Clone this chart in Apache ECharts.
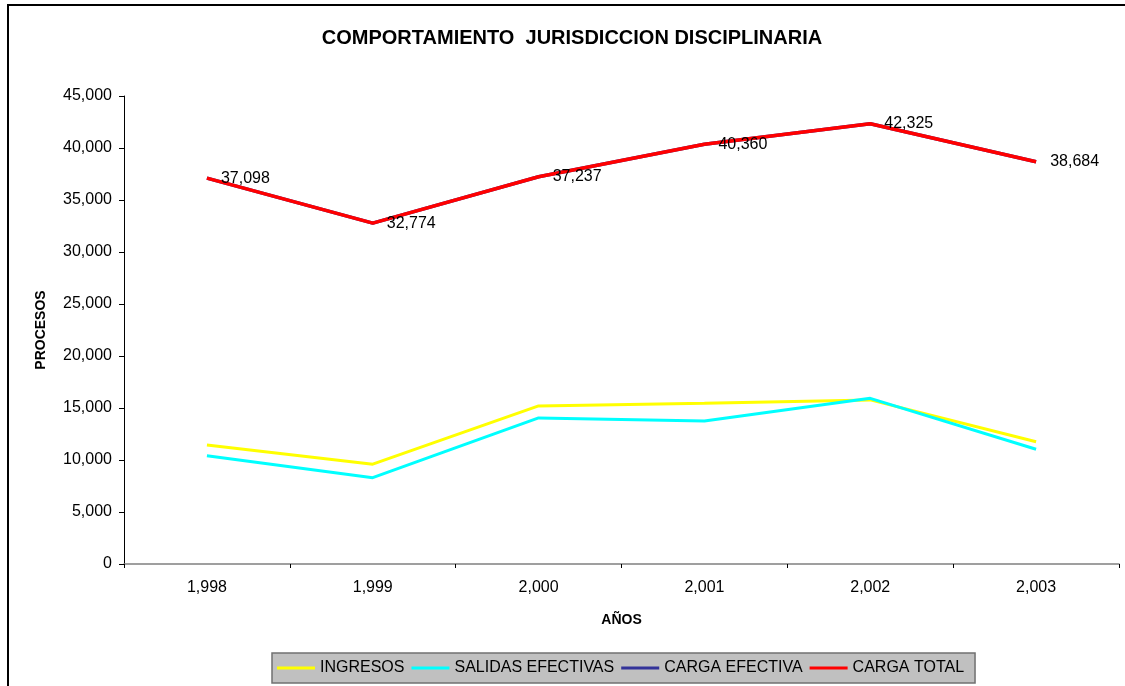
<!DOCTYPE html>
<html>
<head>
<meta charset="utf-8">
<script src="https://cdn.jsdelivr.net/npm/echarts@6/dist/echarts.min.js"></script>
<style>
  html, body { margin: 0; padding: 0; background: #fff; }
  #chart { width: 1125px; height: 686px; }
</style>
</head>
<body>
<div id="chart"></div>
<script>
// datos
const anios = ['1,998', '1,999', '2,000', '2,001', '2,002', '2,003'];
const ingresos = [11450, 9600, 15200, 15450, 15780, 11750];
const salidasEfectivas = [10400, 8300, 14050, 13750, 15930, 11030];
const cargaEfectiva = [37098, 32774, 37237, 40360, 42325, 38684];
const cargaTotal = [37098, 32774, 37237, 40360, 42325, 38684];

const fuente = 'Arial, "Liberation Sans", sans-serif';
const fmt = v => Number(v).toLocaleString('en-US');

const chart = echarts.init(document.getElementById('chart'));

function serie(nombre, datos, color, ancho, etiquetas) {
    return {
        name: nombre, type: 'line', data: datos,
        symbol: 'circle', symbolSize: 0.1, showSymbol: true,
        animation: false,
        lineStyle: { color: color, width: ancho },
        itemStyle: { color: color },
        label: {
            show: etiquetas, position: 'right', distance: 14,
            color: '#000', fontFamily: fuente, fontSize: 16,
            formatter: p => fmt(p.value)
        }
    };
}

chart.setOption({
    backgroundColor: '#fff',
    animation: false,
    title: {
        text: 'COMPORTAMIENTO  JURISDICCION DISCIPLINARIA',
        left: 567, top: 23, textAlign: 'center',
        textStyle: { fontFamily: fuente, fontSize: 20, fontWeight: 'bold', color: '#000' }
    },
    graphic: [{
        type: 'rect', silent: true, z: -1,
        shape: { x: 8, y: 5, width: 1300, height: 900 },
        style: { fill: 'none', stroke: '#000', lineWidth: 2 }
    }],
    grid: { left: 124, right: 6, top: 96, bottom: 122 },
    legend: {
        left: 272, top: 653,
        icon: 'rect', itemWidth: 38, itemHeight: 3, itemGap: 7,
        padding: [7, 11, 7, 5],
        backgroundColor: '#C0C0C0', borderColor: '#707070', borderWidth: 1.5,
        textStyle: { fontFamily: fuente, fontSize: 16, color: '#000' },
        data: ['INGRESOS', 'SALIDAS EFECTIVAS', 'CARGA EFECTIVA', 'CARGA TOTAL']
    },
    xAxis: {
        type: 'category', data: anios, boundaryGap: true,
        name: 'AÑOS', nameLocation: 'middle', nameGap: 49,
        nameTextStyle: { fontFamily: fuente, fontSize: 14, fontWeight: 'bold', color: '#000' },
        axisLine: { lineStyle: { color: '#808080', width: 1.5 } },
        axisTick: { show: true, length: 4, lineStyle: { color: '#000' } },
        axisLabel: { fontFamily: fuente, fontSize: 16, color: '#000', margin: 16 },
        splitLine: { show: false }
    },
    yAxis: {
        type: 'value', min: 0, max: 45000, interval: 5000,
        name: 'PROCESOS', nameLocation: 'middle', nameGap: 76, nameRotate: 90,
        nameTextStyle: { fontFamily: fuente, fontSize: 14, fontWeight: 'bold', color: '#000' },
        axisLine: { show: true, lineStyle: { color: '#000', width: 1 } },
        axisTick: { show: true, length: 5, lineStyle: { color: '#000' } },
        axisLabel: { fontFamily: fuente, fontSize: 16, color: '#000', margin: 12, formatter: fmt },
        splitLine: { show: false }
    },
    series: [
        serie('INGRESOS', ingresos, '#FFFF00', 3, false),
        serie('SALIDAS EFECTIVAS', salidasEfectivas, '#00FFFF', 3, false),
        serie('CARGA EFECTIVA', cargaEfectiva, '#333399', 3.5, false),
        serie('CARGA TOTAL', cargaTotal, '#FF0000', 3.5, true)
    ]
});
</script>
</body>
</html>
